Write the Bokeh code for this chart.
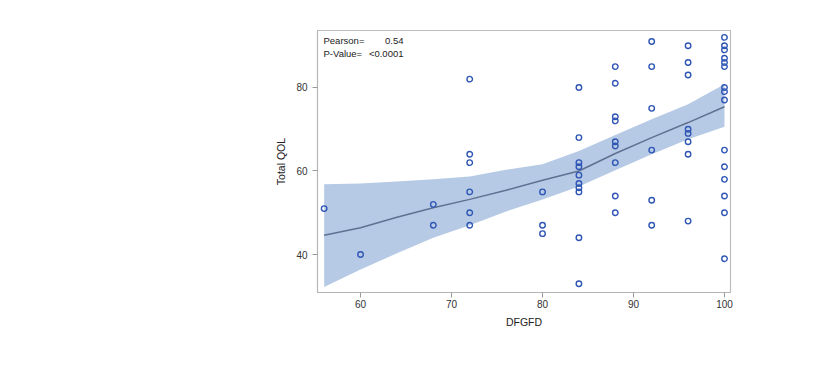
from bokeh.plotting import figure
from bokeh.models import Label, Legend, LegendItem, BoxAnnotation, Range1d, FixedTicker
from bokeh.embed import file_html
from bokeh.resources import INLINE

# ---------------- data ----------------
dfgfd = ([56] + [60] + [68] * 2 + [72] * 6 + [80] * 3 + [84] * 10 + [88] * 9
         + [92] * 6 + [96] * 8 + [100] * 15)
total_qol = ([51] + [40] + [52, 47] + [82, 64, 62, 55, 50, 47] + [55, 47, 45]
             + [80, 68, 62, 61, 59, 57, 56, 55, 44, 33]
             + [85, 81, 73, 72, 67, 66, 62, 54, 50]
             + [91, 85, 75, 65, 53, 47]
             + [90, 86, 83, 70, 69, 67, 64, 48]
             + [92, 90, 89, 87, 86, 85, 80, 79, 77, 65, 61, 58, 54, 50, 39])

fit_x = [56, 60, 64, 68, 72, 76, 80, 84, 88, 92, 96, 100]
loess = [44.6, 46.4, 48.9, 51.2, 53.2, 55.4, 57.8, 60.0, 64.2, 68.0, 71.6, 75.4]
upper = [56.8, 57.0, 57.5, 58.0, 58.7, 60.3, 61.6, 64.8, 68.6, 72.4, 76.0, 80.8]
lower = [32.2, 36.4, 40.3, 44.0, 47.0, 50.3, 53.2, 56.3, 60.2, 64.0, 67.6, 70.6]

x_ticks = [60, 70, 80, 90, 100]
y_ticks = [40, 60, 80]

title_text = "Scatter plot between Total QOL and DFGFD"
x_label = "DFGFD"
y_label = "Total QOL"
stat_names = ["Pearson=", "P-Value="]
stat_values = ["0.54", "<0.0001"]
legend_labels = ["95% Confidence Limits", "Loess", "total"]
caption_lines = [
    "FIGURE 2. Correlation between",
    "Total QOL and Difficulty in",
    "Finding Gluten-Free Diet",
    "(DFGFD) score. Pearson",
    "correlation coefficient=0.54,",
    "p-value <0.0001.",
]

# ---------------- figure ----------------
FONT = "Liberation Sans"
W, H = 809, 371
p = figure(width=W, height=H, output_backend="svg", toolbar_location=None,
           x_range=Range1d(55.27, 100.66), y_range=Range1d(30.9, 93.65),
           min_border_left=317, min_border_right=79,
           min_border_top=30, min_border_bottom=79)

p.xgrid.visible = False
p.ygrid.visible = False
p.outline_line_color = "#bdbdbd"
p.outline_line_width = 1.2
p.background_fill_color = "white"
p.border_fill_color = "white"

for ax, ticks in ((p.xaxis[0], x_ticks), (p.yaxis[0], y_ticks)):
    ax.ticker = FixedTicker(ticks=ticks)
    ax.minor_tick_line_color = None
    ax.major_tick_in = 0
    ax.major_tick_out = 5
    ax.axis_line_color = "#b5b5b5"
    ax.major_tick_line_color = "#9a9a9a"
    ax.major_label_text_font = FONT
    ax.major_label_text_font_size = "10px"
    ax.major_label_text_color = "#333333"
    ax.axis_label_text_font = FONT
    ax.axis_label_text_font_size = "10.5px"
    ax.axis_label_text_font_style = "normal"
    ax.axis_label_text_color = "#222222"

p.xaxis.axis_label = x_label
p.yaxis.axis_label = y_label
p.xaxis.major_label_standoff = 2
p.xaxis.axis_label_standoff = 5
p.yaxis.major_label_standoff = 5
p.yaxis.axis_label_standoff = 6

band = p.varea(x=fit_x, y1=lower, y2=upper, fill_color="#b6cae6", fill_alpha=1.0)
line = p.line(fit_x, loess, line_color="#5f7190", line_width=1.5)
pts = p.scatter(dfgfd, total_qol, marker="circle", size=5.5, fill_color=None,
                line_color="#2f56b4", line_width=1.4)

# legends (three, for individual glyph widths)
leg_specs = [(legend_labels[0], band, 10, 97), (legend_labels[1], line, 38, 209),
             (legend_labels[2], pts, 8, 280)]
for lab, r, gw, lx in leg_specs:
    lg = Legend(items=[LegendItem(label=lab, renderers=[r])], location=(lx, -56),
                orientation="horizontal", border_line_color=None,
                background_fill_alpha=0, glyph_width=gw, glyph_height=10,
                label_text_font=FONT, label_text_font_size="10px",
                label_text_color="#222222", label_standoff=4, padding=1,
                margin=0, spacing=0)
    p.add_layout(lg, "center")

# legend border
p.add_layout(BoxAnnotation(left=413, right=635, top=335, bottom=349,
                           left_units="canvas", right_units="canvas",
                           top_units="canvas", bottom_units="canvas",
                           fill_alpha=0, line_color="#c8c8c8", line_width=1))
# outer frame
p.add_layout(BoxAnnotation(left=269, right=739, top=7, bottom=356,
                           left_units="canvas", right_units="canvas",
                           top_units="canvas", bottom_units="canvas",
                           fill_alpha=0, line_color="#d2d2d2", line_width=1.5))

# title
p.add_layout(Label(x=511.5, y=21, x_units="canvas", y_units="canvas", text=title_text,
                   text_font=FONT, text_font_size="11px", text_font_style="bold",
                   text_align="center", text_baseline="middle", text_color="#111111"))

# stats box text (inside frame)
for i, (nm, vl) in enumerate(zip(stat_names, stat_values)):
    yy = 40 + 12.5 * i
    p.add_layout(Label(x=323, y=yy, x_units="canvas", y_units="canvas", text=nm,
                       text_font=FONT, text_font_size="9.5px",
                       text_align="left", text_baseline="middle", text_color="#222222"))
    p.add_layout(Label(x=403, y=yy, x_units="canvas", y_units="canvas", text=vl,
                       text_font=FONT, text_font_size="9.5px",
                       text_align="right", text_baseline="middle", text_color="#222222"))

# caption
for i, t in enumerate(caption_lines):
    p.add_layout(Label(x=14, y=141.3 + 19.2 * i, x_units="canvas", y_units="canvas",
                       text=t, text_font="Lato", text_font_size="16.5px",
                       text_font_style="bold", text_align="left",
                       text_baseline="alphabetic", text_color="#2a8ea2"))

open("out.html", "w").write(file_html(p, INLINE))
